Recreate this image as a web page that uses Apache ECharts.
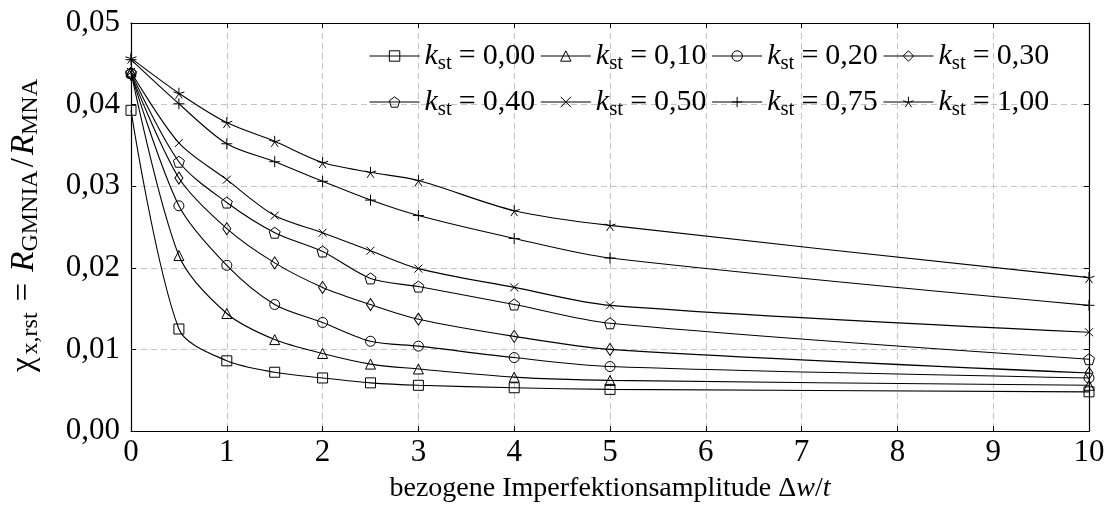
<!DOCTYPE html>
<html>
<head>
<meta charset="utf-8">
<script src="https://cdn.jsdelivr.net/npm/echarts@6/dist/echarts.min.js"></script>
<style>
html,body{margin:0;padding:0;background:#fff;}
#chart{width:1112px;height:520px;}
</style>
</head>
<body>
<div id="chart"></div>
<script>
// ---- data ----
const xValues = [0, 0.5, 1, 1.5, 2, 2.5, 3, 4, 5, 10];
const kNames = ['0,00', '0,10', '0,20', '0,30', '0,40', '0,50', '0,75', '1,00'];
const k000 = [0.0393, 0.0125, 0.0086, 0.0072, 0.0065, 0.0059, 0.0056, 0.0053, 0.0051, 0.0048];
const k010 = [0.0440, 0.0215, 0.0144, 0.0112, 0.0095, 0.0082, 0.0076, 0.0066, 0.0062, 0.0056];
const k020 = [0.0438, 0.0276, 0.0203, 0.0155, 0.0133, 0.0110, 0.0104, 0.0090, 0.0079, 0.0065];
const k030 = [0.0437, 0.0310, 0.0248, 0.0206, 0.0176, 0.0155, 0.0137, 0.0116, 0.0100, 0.0071];
const k040 = [0.0439, 0.0330, 0.0280, 0.0243, 0.0220, 0.0187, 0.0177, 0.0155, 0.0132, 0.0088];
const k050 = [0.0440, 0.0353, 0.0308, 0.0264, 0.0243, 0.0221, 0.0199, 0.0176, 0.0154, 0.0121];
const k075 = [0.0455, 0.0401, 0.0352, 0.0330, 0.0306, 0.0283, 0.0264, 0.0236, 0.0212, 0.0154];
const k100 = [0.0457, 0.0414, 0.0378, 0.0355, 0.0329, 0.0317, 0.0307, 0.0270, 0.0252, 0.0188];
const xTicks = [0, 1, 2, 3, 4, 5, 6, 7, 8, 9, 10];
const yTicks = ['0,00', '0,01', '0,02', '0,03', '0,04', '0,05'];

const seriesValues = [k000, k010, k020, k030, k040, k050, k075, k100];

// ---- styling ----
const FONT = '"Liberation Serif", "DejaVu Serif", serif';
const symbols = [
  'rect',
  'triangle',
  'circle',
  'diamond',
  'path://M5,0L9.755,3.455L7.939,9.045L2.061,9.045L0.245,3.455Z',
  'path://M0,0L10,10M10,0L0,10',
  'path://M5,0L5,10M0,5L10,5',
  'path://M5,5L5,0M5,5L0.245,3.455M5,5L2.061,9.045M5,5L7.939,9.045M5,5L9.755,3.455'
];
const symbolSizes = [10, 10, 10, [8, 12], 11, 8, 11, 11];
const hollow = { color: 'rgba(255,255,255,0)', borderColor: '#000', borderWidth: 1 };

const series = seriesValues.map((vals, i) => ({
  name: kNames[i],
  type: 'line',
  xAxisIndex: 0,
  yAxisIndex: 0,
  data: vals.map((v, j) => [xValues[j], v]),
  smooth: 0.3,
  symbol: symbols[i],
  symbolSize: symbolSizes[i],
  showAllSymbol: true,
  lineStyle: { color: '#000', width: 1.1 },
  itemStyle: hollow,
  emphasis: { disabled: true },
  animation: false,
  z: 3
}));

const LF = 30;
const legendRich = {
  k: { fontFamily: FONT, fontSize: LF, fontStyle: 'italic', color: '#000', lineHeight: 36 },
  s: { fontFamily: FONT, fontSize: 21, color: '#000', lineHeight: 21, verticalAlign: 'bottom' },
  e: { fontFamily: FONT, fontSize: LF, color: '#000', lineHeight: 36, padding: [0, 7, 0, 7] },
  v: { fontFamily: FONT, fontSize: LF, color: '#000', lineHeight: 36 }
};
function legendFmt(name) { return '{k|k}{s|st}{e|=}{v|' + name + '}'; }
function makeLegend(names, top) {
  return {
    data: names,
    left: 364,
    top: top,
    orient: 'horizontal',
    itemWidth: 50,
    itemHeight: 13,
    itemGap: 5,
    selectedMode: false,
    formatter: legendFmt,
    itemStyle: hollow,
    lineStyle: { color: '#000', width: 1.1 },
    textStyle: { fontFamily: FONT, fontSize: LF, color: '#000', rich: legendRich }
  };
}

const axisFontStyle = { fontFamily: FONT, fontSize: 31, color: '#000' };
const gridLine = { show: true, lineStyle: { color: '#c4c4c4', type: [6, 4], width: 1 } };

const option = {
  backgroundColor: '#fff',
  animation: false,
  grid: { left: 129, right: 23, top: 23, bottom: 89, containLabel: false },
  legend: [makeLegend(kNames.slice(0, 4), 36), makeLegend(kNames.slice(4), 82)],
  xAxis: [
    {
      type: 'value', min: 0, max: 10, interval: 1, position: 'bottom',
      axisLine: { show: true, onZero: false, lineStyle: { color: '#000', width: 1.2 } },
      axisTick: { show: true, inside: true, length: 5, lineStyle: { color: '#000' } },
      axisLabel: Object.assign({ margin: 6, formatter: v => xTicks.includes(v) ? String(v) : '' }, axisFontStyle),
      splitLine: gridLine,
      name: 'bezogene Imperfektionsamplitude {m|Δ}{i|w}{m|/}{i|t}',
      nameLocation: 'middle',
      nameGap: 44,
      nameTextStyle: {
        fontFamily: FONT, fontSize: 28, color: '#000',
        rich: {
          m: { fontFamily: FONT, fontSize: 28, color: '#000' },
          i: { fontFamily: FONT, fontSize: 28, color: '#000', fontStyle: 'italic' }
        }
      }
    },
    {
      type: 'value', min: 0, max: 10, interval: 1, position: 'top',
      axisLine: { show: true, onZero: false, lineStyle: { color: '#000', width: 1.2 } },
      axisTick: { show: true, inside: true, length: 5, lineStyle: { color: '#000' } },
      axisLabel: { show: false },
      splitLine: { show: false }
    }
  ],
  yAxis: [
    {
      type: 'value', min: 0, max: 0.05, interval: 0.01, position: 'left',
      axisLine: { show: true, onZero: false, lineStyle: { color: '#000', width: 1.2 } },
      axisTick: { show: true, inside: true, length: 5, lineStyle: { color: '#000' } },
      axisLabel: Object.assign({ margin: 11, formatter: v => yTicks[Math.round(v * 100)] }, axisFontStyle),
      splitLine: gridLine,
      name: '{c|χ}{s|x,rst}{e|=}{r|R}{s|GMNIA}{c|/}{r|R}{s|MNA}',
      nameLocation: 'middle',
      nameRotate: 90,
      nameGap: 88,
      nameTextStyle: {
        fontFamily: FONT, fontSize: 33, color: '#000',
        rich: {
          c: { fontFamily: FONT, fontSize: 33, color: '#000', lineHeight: 37, padding: [0, 3, 0, 3] },
          r: { fontFamily: FONT, fontSize: 33, color: '#000', fontStyle: 'italic', lineHeight: 37 },
          e: { fontFamily: FONT, fontSize: 33, color: '#000', lineHeight: 37, padding: [0, 11, 0, 11] },
          s: { fontFamily: FONT, fontSize: 24, color: '#000', lineHeight: 24, verticalAlign: 'bottom' }
        }
      }
    },
    {
      type: 'value', min: 0, max: 0.05, interval: 0.01, position: 'right',
      axisLine: { show: true, onZero: false, lineStyle: { color: '#000', width: 1.2 } },
      axisTick: { show: true, inside: true, length: 5, lineStyle: { color: '#000' } },
      axisLabel: { show: false },
      splitLine: { show: false }
    }
  ],
  series: series
};

const chart = echarts.init(document.getElementById('chart'), null, { renderer: 'canvas' });
chart.setOption(option);
</script>
</body>
</html>
